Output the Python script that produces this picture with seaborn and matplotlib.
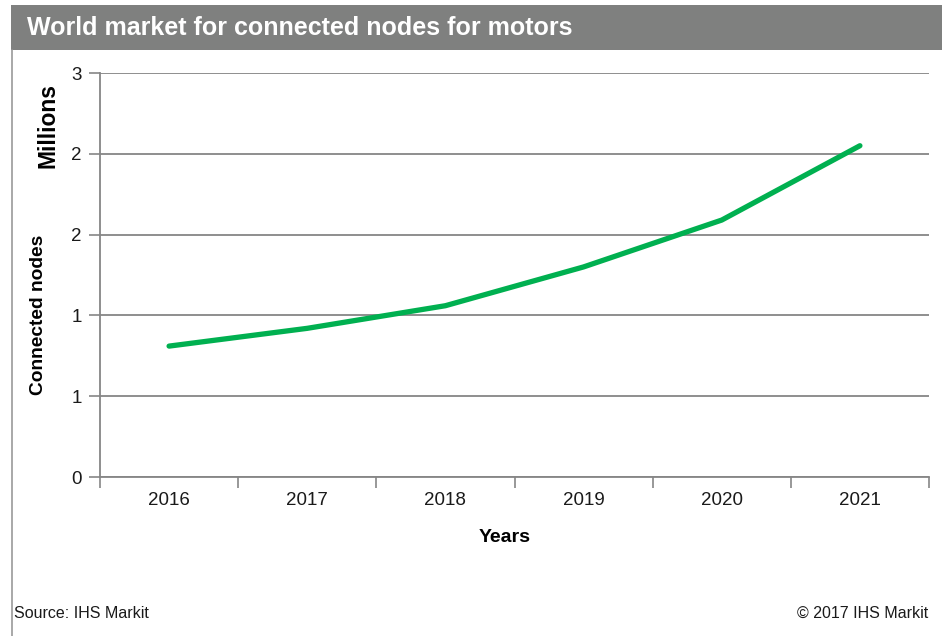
import numpy as np
import pandas as pd
import matplotlib
matplotlib.use("Agg")
import matplotlib.pyplot as plt
from matplotlib.patches import Rectangle
from matplotlib.lines import Line2D
from matplotlib.ticker import FuncFormatter
import seaborn as sns

# Data (millions of connected nodes)
years = ["2016", "2017", "2018", "2019", "2020", "2021"]
nodes_millions = [0.81, 0.92, 1.06, 1.30, 1.59, 2.05]
y_ticks = [0, 0.5, 1.0, 1.5, 2.0, 2.5]

title = "World market for connected nodes for motors"
source_text = "Source: IHS Markit"
copyright_text = "\u00a9 2017 IHS Markit"

sns.set_theme(style="white")
plt.rcParams["font.family"] = ["Liberation Sans", "DejaVu Sans"]

df = pd.DataFrame({"Year": years, "Nodes": nodes_millions})

W, H = 942, 636
fig = plt.figure(figsize=(W / 100, H / 100), dpi=100)
fig.patch.set_facecolor("white")

ax = fig.add_axes([100 / W, 1 - 477 / H, (929 - 100) / W, (477 - 73) / H])

sns.lineplot(data=df, x="Year", y="Nodes", ax=ax, color="#00B050",
             linewidth=3.8, solid_capstyle="round", sort=False)

ax.set_xlim(-0.5, len(years) - 0.5)
ax.set_ylim(0, 2.5)
ax.set_yticks(y_ticks)
ax.yaxis.set_major_formatter(FuncFormatter(lambda v, p: f"{int(np.floor(v + 0.5))}"))

# category boundary ticks on x, labels centred in each category
ax.set_xticks(np.arange(len(years)))
ax.set_xticklabels(years)
ax.set_xticks(np.arange(-0.5, len(years)), minor=True)
ax.tick_params(axis="x", which="major", length=0, pad=11, labelsize=13.5, labelcolor="#1a1a1a")
ax.tick_params(axis="x", which="minor", length=8, width=1.2, color="#868686", direction="out")
ax.tick_params(axis="y", which="major", length=8, width=1.2, color="#868686", direction="out",
               pad=5, labelsize=13.5, labelcolor="#1a1a1a")
ax.xaxis.set_ticks_position("bottom")
ax.yaxis.set_ticks_position("left")

ax.grid(axis="y", color="#868686", linewidth=1.3)
ax.grid(axis="x", visible=False)
ax.set_axisbelow(True)

for side in ["top", "right"]:
    ax.spines[side].set_visible(False)
for side in ["left", "bottom"]:
    ax.spines[side].set_color("#868686")
    ax.spines[side].set_linewidth(1.3)

ax.set_xlabel("")
ax.set_ylabel("")

# axis titles
fig.text(48 / W, 1 - 125 / H, "Millions", rotation=90, ha="center", va="center",
         fontsize=16.5, fontweight="bold", color="black")
fig.text(39 / W, 1 - 315 / H, "Connected nodes", rotation=90, ha="center", va="center",
         fontsize=13.8, fontweight="bold", color="black")
fig.text(505 / W, 1 - 537 / H, "Years", ha="center", va="center",
         fontsize=14, fontweight="bold", color="black")

# title bar
fig.add_artist(Rectangle((11 / W, 1 - 50 / H), 1 - 11 / W, 45 / H,
                         transform=fig.transFigure, facecolor="#7f807f",
                         edgecolor="none", zorder=0))
fig.text(27 / W, 1 - 28 / H, title, ha="left", va="center",
         fontsize=18, fontweight="bold", color="white")

# left frame line
fig.add_artist(Line2D([12 / W, 12 / W], [0, 1 - 50 / H], transform=fig.transFigure,
                      color="#9a9a9a", linewidth=1.2))

# footer
fig.text(14 / W, 1 - 613 / H, source_text, ha="left", va="center",
         fontsize=11.5, color="#1a1a1a")
fig.text(928 / W, 1 - 613 / H, copyright_text, ha="right", va="center",
         fontsize=11.5, color="#1a1a1a")

fig.savefig("out.png", dpi=100, facecolor="white")
